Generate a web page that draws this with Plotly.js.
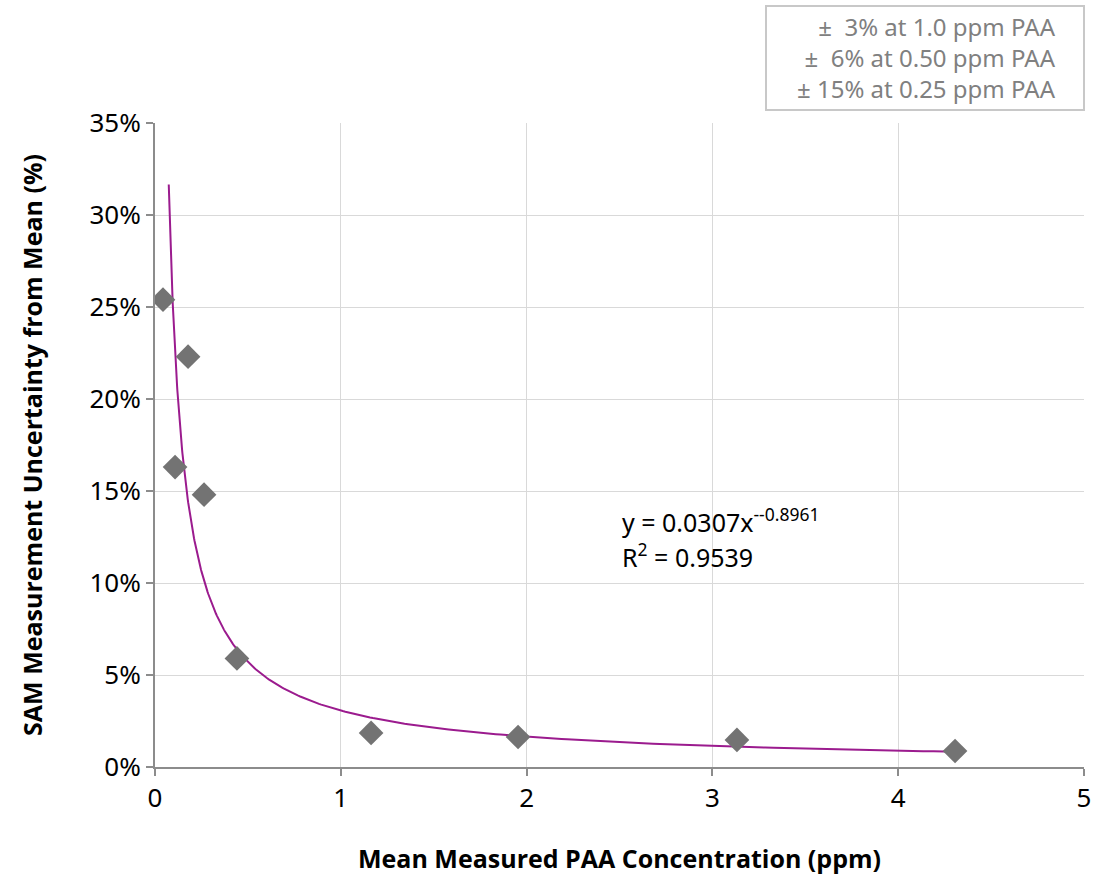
<!DOCTYPE html>
<html>
<head>
<meta charset="utf-8">
<script src="https://cdn.plot.ly/plotly-3.0.1.min.js"></script>
<style>html,body{margin:0;padding:0;background:#fff;}</style>
</head>
<body>
<div id="chart" style="width:1095px;height:879px;"></div>
<script>
// Measured data
const concentration = [0.043, 0.108, 0.178, 0.264, 0.441, 1.163, 1.954, 3.132, 4.306];
const uncertainty   = [0.254, 0.163, 0.223, 0.148, 0.059, 0.0185, 0.0163, 0.0147, 0.0087];
// Power trendline as printed on the chart: y = a * x^b
const trendA = 0.0307;
const trendB = -0.8961;
const trendXStart = 0.074;
const trendXEnd = 4.306;
const legendLines = ["±\u00a0 3% at 1.0 ppm PAA", "±\u00a0 6% at 0.50 ppm PAA", "±\u00a015% at 0.25 ppm PAA"];
const equationLine = "y = 0.0307x<sup>--0.8961</sup>";
const rSquaredLine = "R<sup>2</sup> = 0.9539";

const trendX = [], trendY = [];
const n = 300;
for (let i = 0; i <= n; i++) {
  const t = i / n;
  const x = trendXStart * Math.pow(trendXEnd / trendXStart, t);
  trendX.push(x);
  trendY.push(trendA * Math.pow(x, trendB));
}

const traces = [
  {x: trendX, y: trendY, mode: 'lines', line: {color: '#9b1b8e', width: 2}, hoverinfo: 'skip', showlegend: false},
  {x: concentration, y: uncertainty, mode: 'markers', marker: {symbol: 'diamond', size: 19, color: '#737373'}, showlegend: false}
];

const font = "'Noto Sans', 'Open Sans', sans-serif";
const layout = {
  width: 1095, height: 879,
  margin: {l: 155, r: 11, t: 123, b: 112},
  paper_bgcolor: '#fff', plot_bgcolor: '#fff',
  font: {family: font, color: '#000'},
  showlegend: false,
  xaxis: {
    range: [0, 5], dtick: 1, tick0: 0,
    showgrid: true, gridcolor: '#d9d9d9', gridwidth: 1,
    zeroline: false, showline: true, linecolor: '#8c8c8c', linewidth: 2,
    ticks: 'outside', ticklen: 7, tickcolor: '#8c8c8c', tickwidth: 2,
    tickfont: {size: 26, family: font, color: '#000'},
    title: {text: '<b>Mean Measured PAA Concentration (ppm)</b>', font: {size: 25, family: "'Open Sans', sans-serif", color: '#000'}, standoff: 36},
    automargin: false
  },
  yaxis: {
    range: [0, 0.35], dtick: 0.05, tick0: 0, tickformat: '.0%',
    showgrid: true, gridcolor: '#d9d9d9', gridwidth: 1,
    zeroline: false, showline: true, linecolor: '#8c8c8c', linewidth: 2,
    ticks: 'outside', ticklen: 7, tickcolor: '#8c8c8c', tickwidth: 2,
    tickfont: {size: 26, family: font, color: '#000'},
    title: {text: '<b>SAM Measurement Uncertainty from Mean (%)</b>', font: {size: 25, family: "'Open Sans', sans-serif", color: '#000'}, standoff: 40},
    automargin: false
  },
  shapes: [
    {type: 'rect', xref: 'paper', yref: 'paper', x0: 0.6577, x1: 1.0, y0: 1.0202, y1: 1.1817,
     line: {color: '#c8c8c8', width: 2}, fillcolor: '#fff', layer: 'above'}
  ],
  annotations: [
    {
      xref: 'x', yref: 'y', x: 2.5, y: 0.1452, xanchor: 'left', yanchor: 'top',
      text: equationLine, showarrow: false, align: 'left',
      font: {size: 25, family: font, color: '#000'}
    },
    {
      xref: 'x', yref: 'y', x: 2.5, y: 0.1152, xanchor: 'left', yanchor: 'middle',
      text: rSquaredLine, showarrow: false, align: 'left',
      font: {size: 25, family: font, color: '#000'}
    },
    {
      xref: 'paper', yref: 'paper', x: 0.972, y: 1.101, xanchor: 'right', yanchor: 'middle',
      text: legendLines.join('<br>'), showarrow: false, align: 'right',
      font: {size: 24, family: font, color: '#808080'}
    }
  ]
};

Plotly.newPlot('chart', traces, layout, {displayModeBar: false, staticPlot: true});
</script>
</body>
</html>
